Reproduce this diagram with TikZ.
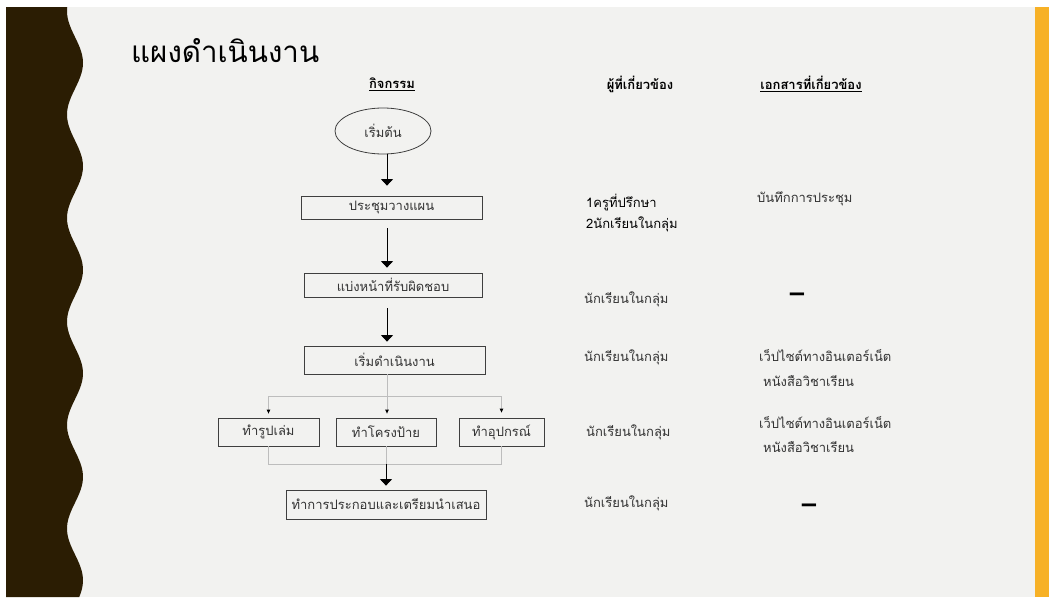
\documentclass[tikz,border=0pt]{standalone}
\usepackage{fontspec}
\setmainfont{Loma}[Script=Thai]
\usetikzlibrary{arrows.meta,shapes.geometric}
\definecolor{slidebg}{HTML}{F2F2F0}
\definecolor{wavebrown}{HTML}{2B1D03}
\definecolor{barorange}{HTML}{F7B126}
\definecolor{boxline}{HTML}{3F3F3F}
\definecolor{branchgray}{HTML}{BDBDBD}
\definecolor{txtgray}{HTML}{333333}
\newcommand\planfont{\fontsize{13}{15}\selectfont}

\begin{document}
\begin{tikzpicture}[x=1pt,y=-1pt,
  flowbox/.style={draw=boxline,line width=0.8pt,inner sep=0pt,text=txtgray,font=\planfont},
  flowarrow/.style={draw=black,line width=0.8pt,-{Triangle[width=12pt,length=6.5pt]}},
  branch/.style={draw=branchgray,line width=0.8pt},
  smallarrow/.style={branch,-{Triangle[width=3.5pt,length=4pt,color=black]}},
  header/.style={font=\planfont\bfseries,text=black},
  coltext/.style={anchor=west,font=\planfont,text=txtgray,inner sep=0pt},
  nodoc/.style={font=\fontsize{26}{28}\selectfont\bfseries,inner sep=0pt}]

\useasboundingbox (0,0) rectangle (1049,597);
% slide background, wavy border and side bar
\fill[white] (0,0) rectangle (1049,597);
\fill[slidebg] (6,7) rectangle (1049,597);
\fill[barorange] (1035,7) rectangle (1049,597);
\fill[wavebrown] (6,7) -- plot[domain=7:597,samples=160,smooth]
  ({75+8*sin(3.4783*(\x-37))},\x) -- (6,597) -- cycle;

\node[anchor=base west,inner sep=0pt,font=\fontsize{29.5}{32}\selectfont] (title) at (131,62) {แผงดำเนินงาน};

% column heads
\node[header] (hdact) at (392,84) {\underline{กิจกรรม}};
\node[header] (hdwho) at (640,84) {ผู้ที่เกี่ยวข้อง};
\node[header] (hddoc) at (811,84) {\underline{เอกสารที่เกี่ยวข้อง}};

% flow of work
\coordinate (spine) at (387,0);
\node[flowbox,ellipse,minimum width=96,minimum height=46] (start) at (383,131) {เริ่มต้น};
\node[flowbox,minimum width=181,minimum height=23] (plan) at (391.5,207.5) {ประชุมวางแผน};
\node[flowbox,minimum width=178,minimum height=24] (duty) at (393,285) {แบ่งหน้าที่รับผิดชอบ};
\node[flowbox,minimum width=181,minimum height=28] (work) at (394.5,360) {เริ่มดำเนินงาน};
\node[flowbox,minimum width=101,minimum height=28] (book) at (268.5,432) {ทำรูปเล่ม};
\node[flowbox,minimum width=100,minimum height=28] (sign) at (386,432) {ทำโครงป้าย};
\node[flowbox,minimum width=85,minimum height=28] (tool) at (501.5,432) {ทำอุปกรณ์};
\node[flowbox,minimum width=200,minimum height=29] (final) at (386,504.5) {ทำการประกอบและเตรียมนำเสนอ};

\draw[flowarrow,shorten >=10pt] (start.south -| spine) -- (plan.north -| spine);
\draw[flowarrow,shorten <=9pt,shorten >=5pt] (plan.south -| spine) -- (duty.north -| spine);
\draw[flowarrow,shorten <=11pt,shorten >=4pt] (duty.south -| spine) -- (work.north -| spine);

\coordinate (split) at (387,396);
\coordinate (join) at (386,464);
\draw[branch] (work.south -| spine) -- (split);
\draw[branch] (split -| book) -- (split -| tool);
\draw[smallarrow,shorten >=4pt] (split -| book) -- (book.north);
\draw[smallarrow,shorten >=4pt] (split) -- (sign.north -| split);
\draw[smallarrow,shorten >=5pt] (split -| tool) -- (tool.north);
\draw[branch] (book.south) -- (join -| book) -- (join -| tool) -- (tool.south);
\draw[branch] (sign.south) -- (join);
\draw[flowarrow,shorten >=4pt] (join) -- (final.north);

% people involved
\node[coltext,text=black] (who1) at (586,203) {1ครูที่ปรึกษา};
\node[coltext,text=black] (who1b) at (586,224) {2นักเรียนในกลุ่ม};
\node[coltext] (who2) at (584,299) {นักเรียนในกลุ่ม};
\node[coltext] (who3) at (584,357) {นักเรียนในกลุ่ม};
\node[coltext] (who4) at (586,432) {นักเรียนในกลุ่ม};
\node[coltext] (who5) at (584,503) {นักเรียนในกลุ่ม};

% documents
\node[coltext] (doc1) at (757,199) {บันทึกการประชุม};
\node[nodoc] (doc2) at (797,298) {–};
\node[coltext] (doc3) at (759,356) {เว็ปไซต์ทางอินเตอร์เน็ต};
\node[coltext] (doc3b) at (763,381) {หนังสือวิชาเรียน};
\node[coltext] (doc4) at (759,423) {เว็ปไซต์ทางอินเตอร์เน็ต};
\node[coltext] (doc4b) at (763,447) {หนังสือวิชาเรียน};
\node[nodoc] (doc5) at (809,509) {–};
\end{tikzpicture}
\end{document}
